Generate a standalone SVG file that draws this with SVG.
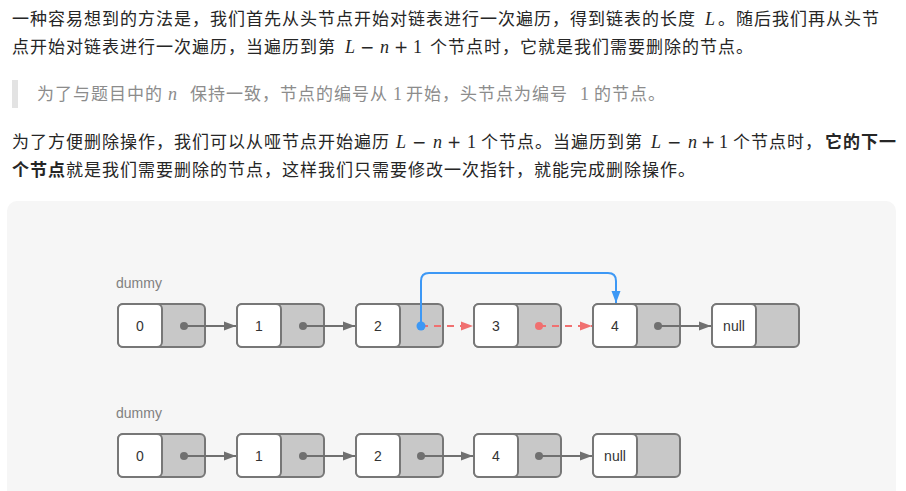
<svg xmlns="http://www.w3.org/2000/svg" width="906" height="491" viewBox="0 0 906 491">
<style>
.t{font-family:"Noto Sans CJK SC","Noto Sans",sans-serif;font-size:17px;letter-spacing:1px;fill:#262626}
.q{fill:#8c8c8c}
.b{font-weight:700}
.m{font-family:"Liberation Serif","Noto Sans CJK SC",serif;font-size:18px;letter-spacing:0}
.op{font-family:"DejaVu Sans",sans-serif;font-size:17px;letter-spacing:0}
.mi{font-style:italic}
.box{fill:#c8c8c8;stroke:#777;stroke-width:2}
.cell{fill:#fff;stroke:#777;stroke-width:2}
.lbl{font-family:"Liberation Sans",Arial,sans-serif;font-size:14px;fill:#333;text-anchor:middle}
.dum{font-family:"Liberation Sans",Arial,sans-serif;font-size:14px;fill:#808080}
.g{stroke:#707070;stroke-width:2;fill:none}
.r{stroke:#f07070;stroke-width:2;fill:none;stroke-dasharray:7 6}
.bl{stroke:#3d98f5;stroke-width:2;fill:none}
</style>
<defs>
<marker id="ag" markerWidth="12" markerHeight="10" refX="12" refY="5" orient="auto" markerUnits="userSpaceOnUse"><path d="M0,0.5 L12,5 L0,9.5 z" fill="#707070"/></marker>
<marker id="ar" markerWidth="12" markerHeight="10" refX="12" refY="5" orient="auto" markerUnits="userSpaceOnUse"><path d="M0,0.5 L12,5 L0,9.5 z" fill="#f07070"/></marker>
<marker id="ab" markerWidth="12" markerHeight="10" refX="12" refY="5" orient="auto" markerUnits="userSpaceOnUse"><path d="M0,0.5 L12,5 L0,9.5 z" fill="#3d98f5"/></marker>
<g id="node">
<rect class="box" x="0" y="0" width="87" height="43" rx="5"/>
<rect class="cell" x="0" y="0" width="44" height="43" rx="5"/>
</g>
</defs>
<rect width="906" height="491" fill="#fff"/>

<g id="text">
<text class="t" y="25"><tspan x="12">一种容易想到的方法是，我们首先从头节点开始对链表进行一次遍历，得到链表的长度</tspan><tspan class="m mi" x="705">L</tspan><tspan x="718">。随后我们再从头节</tspan></text>
<text class="t" y="53"><tspan x="12">点开始对链表进行一次遍历，当遍历到第</tspan><tspan class="m mi" x="345">L</tspan><tspan class="op" x="360">−</tspan><tspan class="m mi" x="380">n</tspan><tspan class="op" x="394">+</tspan><tspan class="m" x="413">1</tspan><tspan x="430">个节点时，它就是我们需要删除的节点。</tspan></text>
<rect x="12" y="80" width="6" height="28" fill="#e3e3e3"/>
<text class="t q" y="100"><tspan x="37">为了与题目中的</tspan><tspan class="m mi q" x="168">n</tspan><tspan x="190">保持一致，节点的编号从</tspan><tspan class="m q" x="393">1</tspan><tspan x="406">开始，头节点为编号</tspan><tspan class="m q" x="580">1</tspan><tspan x="594">的节点。</tspan></text>
<text class="t" y="148"><tspan x="12">为了方便删除操作，我们可以从哑节点开始遍历</tspan><tspan class="m mi" x="396">L</tspan><tspan class="op" x="412">−</tspan><tspan class="m mi" x="433">n</tspan><tspan class="op" x="447">+</tspan><tspan class="m" x="467">1</tspan><tspan x="481">个节点。当遍历到第</tspan><tspan class="m mi" x="651">L</tspan><tspan class="op" x="667">−</tspan><tspan class="m mi" x="688">n</tspan><tspan class="op" x="701">+</tspan><tspan class="m" x="719">1</tspan><tspan x="733">个节点时，</tspan><tspan class="b" x="825">它的下一</tspan></text>
<text class="t" y="176"><tspan class="b" x="12">个节点</tspan><tspan x="66">就是我们需要删除的节点，这样我们只需要修改一次指针，就能完成删除操作。</tspan></text>
</g>

<rect x="7" y="201" width="889" height="310" rx="10" fill="#f6f6f6"/>

<text class="dum" x="116" y="288">dummy</text>
<text class="dum" x="116" y="418">dummy</text>

<g id="r1n0"><use href="#node" x="118" y="304"/><text class="lbl" x="140" y="331">0</text></g>
<g id="r1n1"><use href="#node" x="237" y="304"/><text class="lbl" x="259" y="331">1</text></g>
<g id="r1n2"><use href="#node" x="356" y="304"/><text class="lbl" x="378" y="331">2</text></g>
<g id="r1n3"><use href="#node" x="474" y="304"/><text class="lbl" x="496" y="331">3</text></g>
<g id="r1n4"><use href="#node" x="593" y="304"/><text class="lbl" x="615" y="331">4</text></g>
<g id="r1null"><use href="#node" x="712" y="304"/><text class="lbl" x="734" y="331">null</text></g>

<g id="r2n0"><use href="#node" x="118" y="434"/><text class="lbl" x="140" y="461">0</text></g>
<g id="r2n1"><use href="#node" x="237" y="434"/><text class="lbl" x="259" y="461">1</text></g>
<g id="r2n2"><use href="#node" x="356" y="434"/><text class="lbl" x="378" y="461">2</text></g>
<g id="r2n4"><use href="#node" x="474" y="434"/><text class="lbl" x="496" y="461">4</text></g>
<g id="r2null"><use href="#node" x="593" y="434"/><text class="lbl" x="615" y="461">null</text></g>

<g id="connectors">
<path class="g" d="M184,326 H236" marker-end="url(#ag)"/>
<path class="g" d="M303,326 H355" marker-end="url(#ag)"/>
<path class="r" d="M421,326 H473" marker-end="url(#ar)"/>
<path class="r" d="M539,326 H592" marker-end="url(#ar)"/>
<path class="g" d="M658,326 H711" marker-end="url(#ag)"/>
<path class="bl" d="M421,326 V281 Q421,273 429,273 H608 Q616,273 616,281 V303" marker-end="url(#ab)"/>
<circle cx="184" cy="326" r="4" fill="#707070"/>
<circle cx="303" cy="326" r="4" fill="#707070"/>
<circle cx="539" cy="326" r="4" fill="#f07070"/>
<circle cx="658" cy="326" r="4" fill="#707070"/>
<circle cx="421" cy="326" r="4.5" fill="#3d98f5"/>

<path class="g" d="M184,456 H236" marker-end="url(#ag)"/>
<path class="g" d="M303,456 H355" marker-end="url(#ag)"/>
<path class="g" d="M421,456 H473" marker-end="url(#ag)"/>
<path class="g" d="M539,456 H592" marker-end="url(#ag)"/>
<circle cx="184" cy="456" r="4" fill="#707070"/>
<circle cx="303" cy="456" r="4" fill="#707070"/>
<circle cx="421" cy="456" r="4" fill="#707070"/>
<circle cx="539" cy="456" r="4" fill="#707070"/>
</g>
</svg>
